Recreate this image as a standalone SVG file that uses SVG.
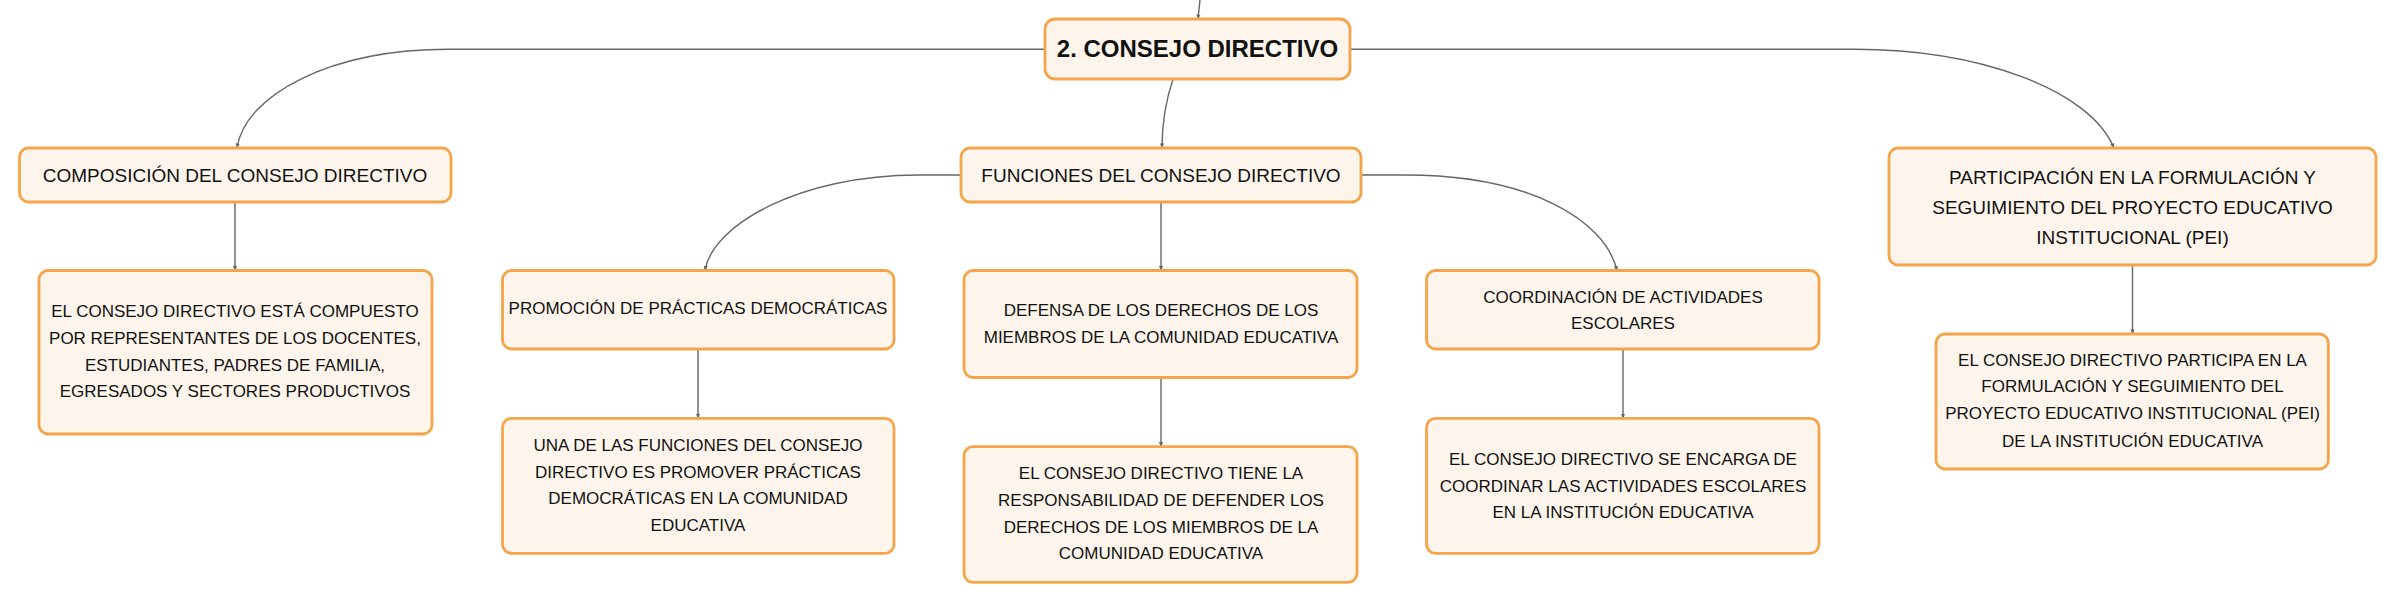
<svg xmlns="http://www.w3.org/2000/svg" width="2396" height="602" viewBox="0 0 2396 602">
<defs>
<marker id="arr" viewBox="0 0 6 6" refX="5.5" refY="3" markerWidth="5" markerHeight="5" markerUnits="userSpaceOnUse" orient="auto">
<path d="M0,0.5 L6,3 L0,5.5 Z" fill="#666"/>
</marker>
<style>
.box{fill:#FDF5EC;stroke:#F4A54A;stroke-width:2.8}
.t{font-family:"Liberation Sans",Arial,sans-serif;fill:#111;text-anchor:middle}
.l1{font-size:19px}
.l2{font-size:17px}
.root{font-size:24px;font-weight:bold}
.c{fill:none;stroke:#666;stroke-width:1.4}
</style>
</defs>
<rect width="2396" height="602" fill="#fff"/>
<g id="connectors">
<path class="c" d="M1200,0 L1198,19" marker-end="url(#arr)"/>
<path class="c" d="M1045,49.3 H449 C330,49.3 245,95 237,148" marker-end="url(#arr)"/>
<path class="c" d="M1350,49.3 H1854 C1980,49.3 2090,90 2114,148" marker-end="url(#arr)"/>
<path class="c" d="M1173,79 C1166,100 1162,125 1162,148" marker-end="url(#arr)"/>
<path class="c" d="M961,175 H918 C800,175 712,225 705,270.5" marker-end="url(#arr)"/>
<path class="c" d="M1161,202 V270.5" marker-end="url(#arr)"/>
<path class="c" d="M1361,175 H1405 C1530,175 1605,220 1617,270.5" marker-end="url(#arr)"/>
<path class="c" d="M235,202 V270.5" marker-end="url(#arr)"/>
<path class="c" d="M698,349 V418.3" marker-end="url(#arr)"/>
<path class="c" d="M1161,377.5 V446.7" marker-end="url(#arr)"/>
<path class="c" d="M1623,349 V418.3" marker-end="url(#arr)"/>
<path class="c" d="M2132.5,265 V334" marker-end="url(#arr)"/>
</g>
<g id="root">
<rect class="box" x="1045" y="19" width="305" height="60" rx="10"/>
<text class="t root" x="1197.5" y="57">2. CONSEJO DIRECTIVO</text>
</g>
<g id="composicion">
<rect class="box" x="19.5" y="148" width="431.5" height="54" rx="9"/>
<text class="t l1" x="235" y="182">COMPOSICIÓN DEL CONSEJO DIRECTIVO</text>
</g>
<g id="funciones">
<rect class="box" x="961" y="148" width="400" height="54" rx="9"/>
<text class="t l1" x="1161" y="182">FUNCIONES DEL CONSEJO DIRECTIVO</text>
</g>
<g id="participacion">
<rect class="box" x="1889" y="148" width="487" height="117" rx="9"/>
<text class="t l1" x="2132.5" y="184">PARTICIPACIÓN EN LA FORMULACIÓN Y</text>
<text class="t l1" x="2132.5" y="214">SEGUIMIENTO DEL PROYECTO EDUCATIVO</text>
<text class="t l1" x="2132.5" y="244">INSTITUCIONAL (PEI)</text>
</g>
<g id="composicion-detalle">
<rect class="box" x="39" y="270.5" width="393" height="163.5" rx="9"/>
<text class="t l2" x="235" y="317">EL CONSEJO DIRECTIVO ESTÁ COMPUESTO</text>
<text class="t l2" x="235" y="344">POR REPRESENTANTES DE LOS DOCENTES,</text>
<text class="t l2" x="235" y="370.7">ESTUDIANTES, PADRES DE FAMILIA,</text>
<text class="t l2" x="235" y="397.3">EGRESADOS Y SECTORES PRODUCTIVOS</text>
</g>
<g id="promocion">
<rect class="box" x="502.5" y="270.5" width="391.5" height="78.5" rx="9"/>
<text class="t l2" x="698" y="314.3">PROMOCIÓN DE PRÁCTICAS DEMOCRÁTICAS</text>
</g>
<g id="promocion-detalle">
<rect class="box" x="502.5" y="418.3" width="391.5" height="135" rx="9"/>
<text class="t l2" x="698" y="451">UNA DE LAS FUNCIONES DEL CONSEJO</text>
<text class="t l2" x="698" y="478">DIRECTIVO ES PROMOVER PRÁCTICAS</text>
<text class="t l2" x="698" y="504.3">DEMOCRÁTICAS EN LA COMUNIDAD</text>
<text class="t l2" x="698" y="531">EDUCATIVA</text>
</g>
<g id="defensa">
<rect class="box" x="964" y="270.5" width="393" height="107" rx="9"/>
<text class="t l2" x="1161" y="315.7">DEFENSA DE LOS DERECHOS DE LOS</text>
<text class="t l2" x="1161" y="342.7">MIEMBROS DE LA COMUNIDAD EDUCATIVA</text>
</g>
<g id="defensa-detalle">
<rect class="box" x="964" y="446.7" width="393" height="135.6" rx="9"/>
<text class="t l2" x="1161" y="479.3">EL CONSEJO DIRECTIVO TIENE LA</text>
<text class="t l2" x="1161" y="506">RESPONSABILIDAD DE DEFENDER LOS</text>
<text class="t l2" x="1161" y="532.7">DERECHOS DE LOS MIEMBROS DE LA</text>
<text class="t l2" x="1161" y="559.3">COMUNIDAD EDUCATIVA</text>
</g>
<g id="coordinacion">
<rect class="box" x="1426.5" y="270.5" width="392.5" height="78.5" rx="9"/>
<text class="t l2" x="1623" y="302.7">COORDINACIÓN DE ACTIVIDADES</text>
<text class="t l2" x="1623" y="329.3">ESCOLARES</text>
</g>
<g id="coordinacion-detalle">
<rect class="box" x="1426.5" y="418.3" width="392.5" height="135" rx="9"/>
<text class="t l2" x="1623" y="465">EL CONSEJO DIRECTIVO SE ENCARGA DE</text>
<text class="t l2" x="1623" y="491.7">COORDINAR LAS ACTIVIDADES ESCOLARES</text>
<text class="t l2" x="1623" y="518.3">EN LA INSTITUCIÓN EDUCATIVA</text>
</g>
<g id="participacion-detalle">
<rect class="box" x="1936" y="334" width="392.4" height="135" rx="9"/>
<text class="t l2" x="2132.5" y="365.7">EL CONSEJO DIRECTIVO PARTICIPA EN LA</text>
<text class="t l2" x="2132.5" y="392.3">FORMULACIÓN Y SEGUIMIENTO DEL</text>
<text class="t l2" x="2132.5" y="419.3">PROYECTO EDUCATIVO INSTITUCIONAL (PEI)</text>
<text class="t l2" x="2132.5" y="446.7">DE LA INSTITUCIÓN EDUCATIVA</text>
</g>
</svg>
